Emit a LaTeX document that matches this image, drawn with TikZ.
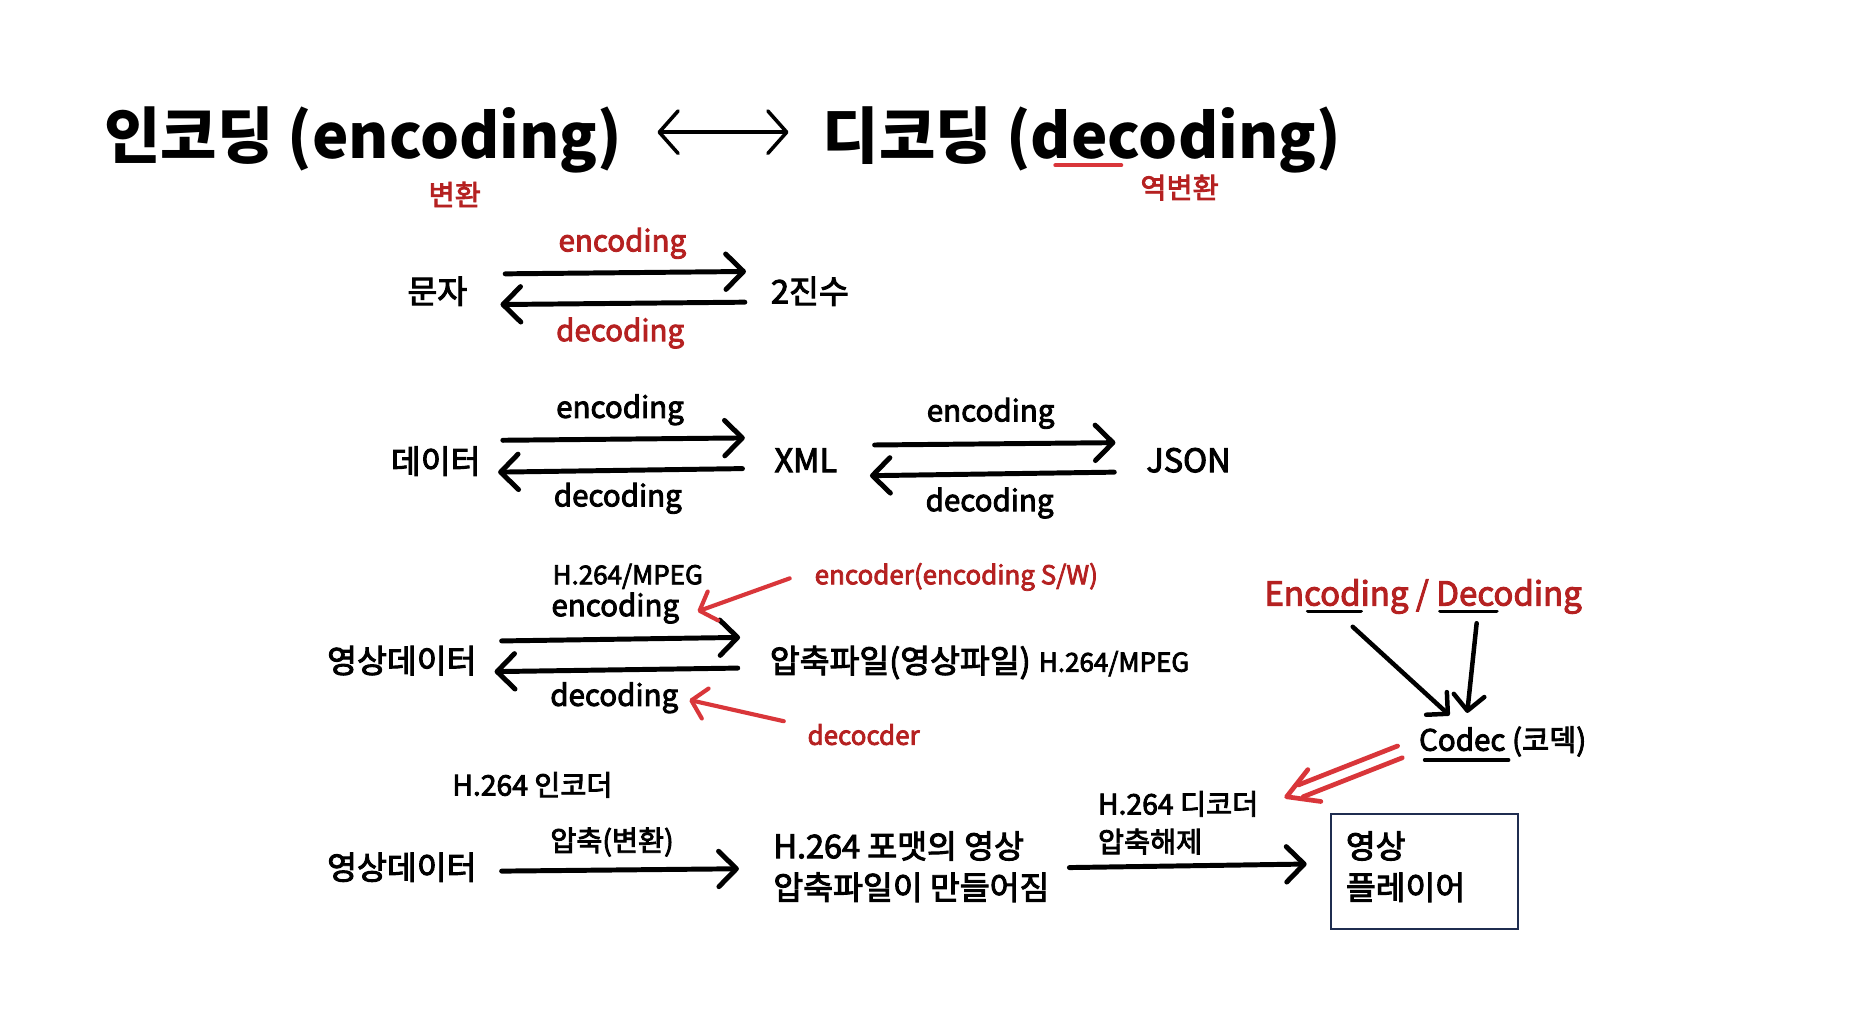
\documentclass[tikz,border=0pt]{standalone}
\usepackage{fontspec}
\setmainfont{Noto Sans CJK KR}[UprightFeatures={FakeBold=3}]
\usetikzlibrary{arrows.meta}
\definecolor{txtred}{HTML}{B52121}
\definecolor{arrred}{HTML}{D9363A}
\definecolor{navy}{HTML}{1F2D50}
\begin{document}
\begin{tikzpicture}[x=1pt,y=-1pt,
  t/.style={inner sep=0pt, anchor=base west, font=\fontsize{25}{30}\selectfont},
  k/.style={inner sep=0pt, anchor=base west, font=\fontsize{27.5}{32}\selectfont},
  s/.style={inner sep=0pt, anchor=base west, font=\fontsize{22}{26}\selectfont},
  sk/.style={inner sep=0pt, anchor=base west, font=\fontsize{24}{28}\selectfont},
  ttl/.style={inner sep=0pt, anchor=base west, font=\fontsize{52}{60}\selectfont\bfseries},
  red/.style={text=txtred},
  arr/.style={line width=4.2pt, line cap=round, -{Straight Barb[length=15pt,width=30pt,round]}},
  rarr/.style={draw=arrred, line width=3.5pt, line cap=round, -{Straight Barb[length=12pt,width=26pt,round]}},
  uline/.style={line width=3.2pt, line cap=round}
]
\useasboundingbox (0,0) rectangle (1569,874);

% title
\node[ttl] (enc) at (88,134) {인코딩 (encoding)};
\node[ttl] (dec) at (697,134) {디코딩 (decoding)};
\coordinate (da) at (557,112);
\coordinate (db) at (668,112);
\draw[line width=3pt, line cap=round, {Straight Barb[length=16pt,width=36pt,round]}-{Straight Barb[length=16pt,width=36pt,round]}] (da) -- (db);
\coordinate (ua) at (894,140);
\coordinate (ub) at (950,140);
\draw[uline, arrred] (ua) -- (ub);
\node[sk, red] (bh) at (363,174) {변환};
\node[sk, red] (ybh) at (966,168) {역변환};

% row 1
\node[k] (mj) at (345,257) {문자};
\node[k] (js) at (653,257) {2진수};
\coordinate (r1a) at (428,232); \coordinate (r1b) at (632,230);
\coordinate (r1c) at (631,256); \coordinate (r1d) at (424,258);
\draw[arr] (r1a) -- (r1b);
\draw[arr] (r1c) -- (r1d);
\node[t, red] (e1) at (473,213) {encoding};
\node[t, red] (d1) at (471,289) {decoding};

% row 2
\node[k] (dt) at (331,401) {데이터};
\node[k] (xml) at (656,400) {XML};
\node[k] (json) at (971,400) {JSON};
\coordinate (r2a) at (426,373); \coordinate (r2b) at (631,371);
\coordinate (r2c) at (629,397); \coordinate (r2d) at (422,400);
\draw[arr] (r2a) -- (r2b);
\draw[arr] (r2c) -- (r2d);
\node[t] (e2) at (471,354) {encoding};
\node[t] (d2) at (469,429) {decoding};
\coordinate (r2e) at (741,377); \coordinate (r2f) at (945,375);
\coordinate (r2g) at (944,400); \coordinate (r2h) at (737,403);
\draw[arr] (r2e) -- (r2f);
\draw[arr] (r2g) -- (r2h);
\node[t] (e3) at (785,357) {encoding};
\node[t] (d3) at (784,433) {decoding};

% row 3
\node[s] (mp1) at (468,495) {H.264/MPEG};
\node[t] (e4) at (467,522) {encoding};
\node[t] (d4) at (466,598) {decoding};
\node[k] (ys1) at (277,570) {영상데이터};
\node[k] (ap) at (652,570) {압축파일(영상파일)};
\node[s] (mp2) at (880,569) {H.264/MPEG};
\coordinate (r3a) at (425,543); \coordinate (r3b) at (627,540);
\coordinate (r3c) at (625,566); \coordinate (r3d) at (419,569);
\draw[arr] (r3a) -- (r3b);
\draw[arr] (r3c) -- (r3d);
\node[s, red] (ecd) at (690,495) {encoder(encoding S/W)};
\node[s, red] (dcd) at (684,631) {decocder};
\coordinate (ra1) at (669,490); \coordinate (ra2) at (591,518);
\coordinate (ra3) at (664,611); \coordinate (ra4) at (584,593);
\draw[rarr] (ra1) -- (ra2);
\draw[rarr] (ra3) -- (ra4);

% codec
\node[t, red, font=\fontsize{28}{32}\selectfont] (ed) at (1071,513) {Encoding / Decoding};
\coordinate (u1a) at (1108,518); \coordinate (u1b) at (1153,518);
\coordinate (u2a) at (1220,518); \coordinate (u2b) at (1268,518);
\draw[uline] (u1a) -- (u1b);
\draw[uline] (u2a) -- (u2b);
\coordinate (ca1) at (1146,531); \coordinate (ca2) at (1228,606);
\coordinate (ca3) at (1251,528); \coordinate (ca4) at (1243,604);
\draw[arr, line width=3.8pt, -{Straight Barb[length=13pt,width=26pt,round]}] (ca1) -- (ca2);
\draw[arr, line width=3.8pt, -{Straight Barb[length=13pt,width=26pt,round]}] (ca3) -- (ca4);
\node[t, font=\fontsize{25}{28}\selectfont] (codec) at (1202,636) {Codec (코덱)};
\coordinate (u3a) at (1207,644); \coordinate (u3b) at (1278,644);
\draw[uline] (u3a) -- (u3b);
% red double arrow
\coordinate (dl1a) at (1184,632); \coordinate (dl1b) at (1100,665);
\coordinate (dl2a) at (1188,642); \coordinate (dl2b) at (1104,675);
\coordinate (dtip) at (1090,675);
\coordinate (db1) at (1108,652); \coordinate (db2) at (1119,679);
\draw[arrred, line width=4pt, line cap=round] (dl1a) -- (dl1b);
\draw[arrred, line width=4pt, line cap=round] (dl2a) -- (dl2b);
\draw[arrred, line width=4pt, line cap=round, line join=round] (db1) -- (dtip) -- (db2);

% row 4
\node[sk] (h1) at (383,674) {H.264 인코더};
\node[k] (ys2) at (277,745) {영상데이터};
\node[sk] (ac) at (466,721) {압축(변환)};
\coordinate (r4a) at (425,738); \coordinate (r4b) at (626,736);
\draw[arr] (r4a) -- (r4b);
\node[k] (fmt1) at (655,727) {H.264 포맷의 영상};
\node[k] (fmt2) at (655,762) {압축파일이 만들어짐};
\node[sk] (h2) at (930,690) {H.264 디코더};
\node[sk] (ah) at (930,722) {압축해제};
\coordinate (r4c) at (906,735); \coordinate (r4d) at (1107,732);
\draw[arr] (r4c) -- (r4d);
\node[draw=navy, line width=1.6pt, minimum width=158pt, minimum height=97pt, anchor=north west, inner sep=0pt] (box) at (1127,689) {};
\node[k] (p1) at (1140,727) {영상};
\node[k] (p2) at (1140,762) {플레이어};
\end{tikzpicture}
\end{document}
